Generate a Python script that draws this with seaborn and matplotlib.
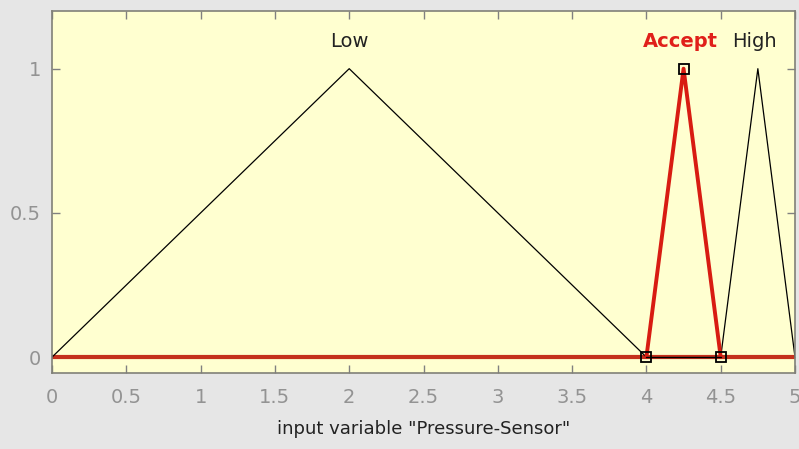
import matplotlib
matplotlib.use("Agg")
import matplotlib.pyplot as plt
import seaborn as sns

# membership function data (input variable "Pressure-Sensor", range 0..5)
low_x = [0, 2, 4]
low_y = [0, 1, 0]
accept_x = [4, 4.25, 4.5]
accept_y = [0, 1, 0]
high_x = [4.5, 4.75, 5]
high_y = [0, 1, 0]
base_x = [0, 5]          # Accept MF is zero outside its support
base_y = [0, 0]
gap_x = [4, 4.5]         # Low / High both zero here
gap_y = [0, 0]

mf_names = ["Low", "Accept", "High"]
mf_peaks = [2, 4.23, 4.73]
x_ticks = [0, 0.5, 1, 1.5, 2, 2.5, 3, 3.5, 4, 4.5, 5]
x_tick_labels = ["0", "0.5", "1", "1.5", "2", "2.5", "3", "3.5", "4", "4.5", "5"]
y_ticks = [0, 0.5, 1]
y_tick_labels = ["0", "0.5", "1"]

sns.set_style("ticks")
plt.rcParams["font.family"] = ["DejaVu Sans"]

fig = plt.figure(figsize=(7.99, 4.49), dpi=100, facecolor="#e6e6e6")
ax = fig.add_axes([0.0651, 0.1693, 0.9299, 0.8062])
ax.set_facecolor("#ffffd0")

red = "#d81c12"

sns.lineplot(x=base_x, y=base_y, ax=ax, color="#c4301c", linewidth=3.0, sort=False)
sns.lineplot(x=low_x, y=low_y, ax=ax, color="black", linewidth=0.9, sort=False)
sns.lineplot(x=high_x, y=high_y, ax=ax, color="black", linewidth=0.9, sort=False)
sns.lineplot(x=accept_x, y=accept_y, ax=ax, color=red, linewidth=2.8, sort=False)
sns.lineplot(x=gap_x, y=gap_y, ax=ax, color="black", linewidth=1.0, sort=False)
ax.plot(accept_x, accept_y, linestyle="none", marker="s", markersize=7,
        markerfacecolor="none", markeredgecolor="black", markeredgewidth=1.3)

for name, px in zip(mf_names, mf_peaks):
    if name == "Accept":
        ax.text(px, 1.095, name, ha="center", va="center", fontsize=14,
                color="#e0201a", fontweight="bold")
    else:
        ax.text(px, 1.095, name, ha="center", va="center", fontsize=14,
                color="#222222")

ax.set_xlim(0, 5)
ax.set_ylim(-0.055, 1.2)
ax.set_xticks(x_ticks)
ax.set_xticklabels(x_tick_labels)
ax.set_yticks(y_ticks)
ax.set_yticklabels(y_tick_labels)
ax.tick_params(direction="in", length=6, width=1.0, color="#808080",
               labelcolor="#939393", labelsize=14, top=True, right=True)
ax.tick_params(axis="x", pad=11)
ax.tick_params(axis="y", pad=8)
for sp in ax.spines.values():
    sp.set_visible(True)
    sp.set_color("#808078")
    sp.set_linewidth(1.2)

ax.set_xlabel('input variable "Pressure-Sensor"', fontsize=13, color="#222222", labelpad=9)
ax.set_ylabel("")

fig.savefig("out.png", dpi=100, facecolor=fig.get_facecolor())
